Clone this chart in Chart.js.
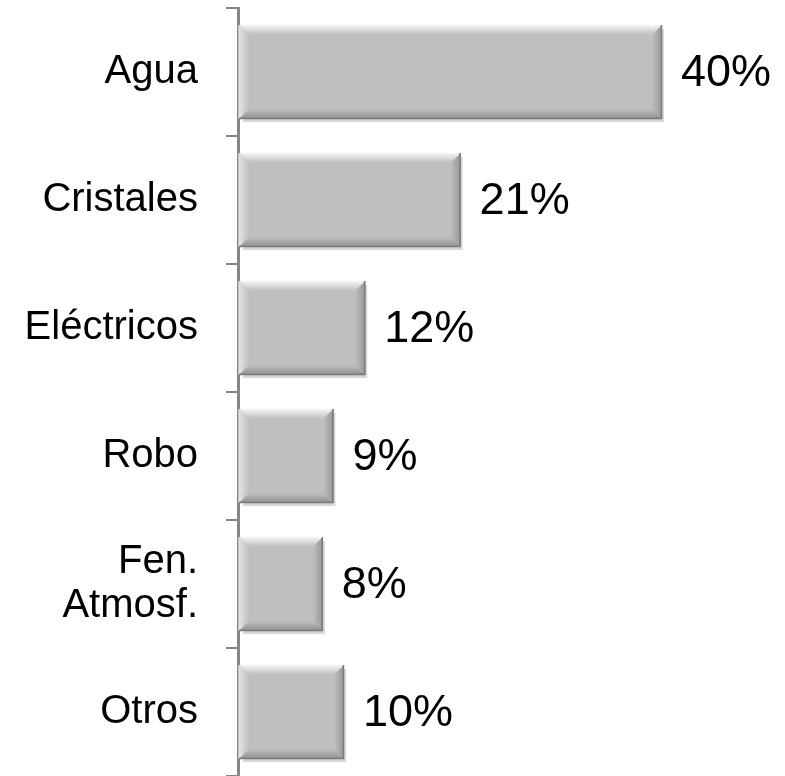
<!DOCTYPE html>
<html>
<head>
<meta charset="utf-8">
<script src="https://cdn.jsdelivr.net/npm/chart.js@4.4.1/dist/chart.umd.min.js"></script>
<style>
  html, body { margin: 0; padding: 0; background: #ffffff; }
  canvas { display: block; }
</style>
</head>
<body>
<canvas id="siniestrosChart" width="785" height="776"></canvas>
<script>
// categorías y porcentajes
const categorias = ['Agua', 'Cristales', 'Eléctricos', 'Robo', ['Fen.', 'Atmosf.'], 'Otros'];
const porcentajes = [40, 21, 12, 9, 8, 10];

const FUENTE = '"Liberation Sans", Arial, Helvetica, sans-serif';

// relieve de las barras (biselado gris)
const biselPlugin = {
  id: 'bisel',
  afterDatasetsDraw: function(chart) {
    const ctx = chart.ctx;
    const meta = chart.getDatasetMeta(0);
    meta.data.forEach(function(bar) {
      const left = Math.min(bar.base, bar.x) + 1;
      const right = Math.max(bar.base, bar.x);
      const top = bar.y - bar.height / 2;
      const bottom = bar.y + bar.height / 2;
      const b = 10;
      ctx.save();

      // sombra inferior
      ctx.fillStyle = 'rgba(0,0,0,0.16)';
      ctx.fillRect(left + 4, bottom, right - left - 4, 3);
      ctx.fillRect(right, top + 4, 2, bottom - top - 1);

      // bisel superior
      let g = ctx.createLinearGradient(0, top, 0, top + b);
      g.addColorStop(0, '#f6f6f6');
      g.addColorStop(1, '#bfbfbf');
      ctx.fillStyle = g;
      ctx.beginPath();
      ctx.moveTo(left, top); ctx.lineTo(right, top);
      ctx.lineTo(right - b, top + b); ctx.lineTo(left + b, top + b);
      ctx.closePath(); ctx.fill();

      // bisel izquierdo
      g = ctx.createLinearGradient(left, 0, left + b, 0);
      g.addColorStop(0, '#e2e2e2');
      g.addColorStop(1, '#bfbfbf');
      ctx.fillStyle = g;
      ctx.beginPath();
      ctx.moveTo(left, top); ctx.lineTo(left + b, top + b);
      ctx.lineTo(left + b, bottom - b); ctx.lineTo(left, bottom);
      ctx.closePath(); ctx.fill();

      // bisel derecho
      g = ctx.createLinearGradient(right - b, 0, right, 0);
      g.addColorStop(0, '#bfbfbf');
      g.addColorStop(1, '#969696');
      ctx.fillStyle = g;
      ctx.beginPath();
      ctx.moveTo(right, top); ctx.lineTo(right, bottom);
      ctx.lineTo(right - b, bottom - b); ctx.lineTo(right - b, top + b);
      ctx.closePath(); ctx.fill();

      // bisel inferior
      g = ctx.createLinearGradient(0, bottom - b, 0, bottom);
      g.addColorStop(0, '#bfbfbf');
      g.addColorStop(1, '#8f8f8f');
      ctx.fillStyle = g;
      ctx.beginPath();
      ctx.moveTo(left, bottom); ctx.lineTo(right, bottom);
      ctx.lineTo(right - b, bottom - b); ctx.lineTo(left + b, bottom - b);
      ctx.closePath(); ctx.fill();

      // borde oscuro abajo y a la derecha
      ctx.strokeStyle = '#7a7a7a';
      ctx.lineWidth = 1.5;
      ctx.beginPath();
      ctx.moveTo(left, bottom - 0.5); ctx.lineTo(right - 0.5, bottom - 0.5);
      ctx.lineTo(right - 0.5, top);
      ctx.stroke();

      ctx.restore();
    });
  }
};

// etiquetas de valor a la derecha de cada barra
const valoresPlugin = {
  id: 'valores',
  afterDatasetsDraw: function(chart) {
    const ctx = chart.ctx;
    const meta = chart.getDatasetMeta(0);
    ctx.save();
    ctx.font = '45px ' + FUENTE;
    ctx.fillStyle = '#000000';
    ctx.textAlign = 'left';
    ctx.textBaseline = 'middle';
    meta.data.forEach(function(bar, i) {
      ctx.fillText(porcentajes[i] + '%', bar.x + 19, bar.y + 2);
    });
    ctx.restore();
  }
};

const ctx = document.getElementById('siniestrosChart').getContext('2d');
new Chart(ctx, {
  type: 'bar',
  data: {
    labels: categorias,
    datasets: [{
      data: porcentajes,
      backgroundColor: '#bfbfbf',
      borderWidth: 0,
      categoryPercentage: 1,
      barPercentage: 0.734
    }]
  },
  options: {
    indexAxis: 'y',
    responsive: false,
    animation: false,
    layout: { padding: { top: 8, right: 17, bottom: 0, left: 0 } },
    plugins: {
      legend: { display: false },
      tooltip: { enabled: false }
    },
    scales: {
      x: {
        display: false,
        min: 0,
        max: 50
      },
      y: {
        afterFit: function(scale) {
          scale.width = 238;
          scale.paddingTop = 0;
          scale.paddingBottom = 0;
        },
        border: { display: true, color: '#868686', width: 3 },
        grid: {
          offset: true,
          drawOnChartArea: false,
          drawTicks: true,
          tickLength: 12,
          color: '#868686',
          lineWidth: 2
        },
        ticks: {
          color: '#000000',
          padding: 28,
          font: { family: FUENTE, size: 40, lineHeight: 1.08 }
        }
      }
    }
  },
  plugins: [biselPlugin, valoresPlugin]
});
</script>
</body>
</html>
